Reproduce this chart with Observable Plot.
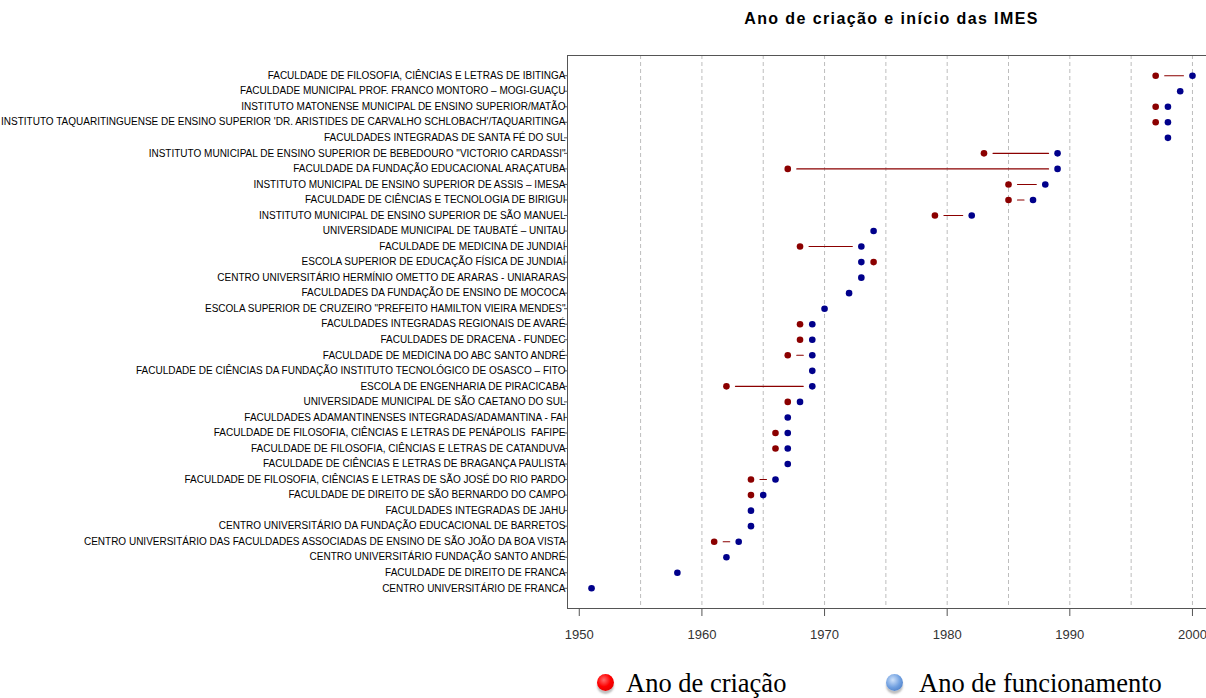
<!DOCTYPE html>
<html>
<head>
<meta charset="utf-8">
<script src="https://cdn.jsdelivr.net/npm/d3@7"></script>
<script src="https://cdn.jsdelivr.net/npm/@observablehq/plot@0.6"></script>
<style>
  html, body { margin: 0; padding: 0; background: #fff; overflow: hidden; width: 1206px; height: 698px; }
  #title { height: 40px; position: relative; }
  #title span { position: absolute; left: 567px; width: 649px; top: 10px; text-align: center;
    font: bold 16px "Liberation Sans", Arial, sans-serif; letter-spacing: 1.4px; color: #000; }
  #legend { position: relative; height: 33px; }
  .dot { position: absolute; width: 17px; height: 17px; border-radius: 50%; top: 9px;
    box-shadow: 0 3px 2px rgba(0,0,0,0.25); }
  .lab { position: absolute; top: 3px; font: 26.5px "Liberation Serif", "Times New Roman", serif; color: #000; white-space: nowrap; line-height: 30px; }
</style>
</head>
<body>
<div id="title"><span>Ano de criação e início das IMES</span></div>
<div id="chart"></div>
<div id="legend">
  <div class="dot" style="left:597px; background: radial-gradient(circle at 40% 35%, #ff6b6b 0%, #ff0000 45%, #d00000 100%);"></div>
  <div class="lab" style="left:626px;">Ano de criação</div>
  <div class="dot" style="left:886px; background: radial-gradient(circle at 40% 35%, #cfe2fa 0%, #6f9fe0 50%, #3d6fb8 100%);"></div>
  <div class="lab" style="left:919px;">Ano de funcionamento</div>
</div>
<script>
const names = [
  "FACULDADE DE FILOSOFIA, CIÊNCIAS E LETRAS DE IBITINGA",
  "FACULDADE MUNICIPAL PROF. FRANCO MONTORO – MOGI-GUAÇU",
  "INSTITUTO MATONENSE MUNICIPAL DE ENSINO SUPERIOR/MATÃO",
  "INSTITUTO TAQUARITINGUENSE DE ENSINO SUPERIOR 'DR. ARISTIDES DE CARVALHO SCHLOBACH'/TAQUARITINGA",
  "FACULDADES INTEGRADAS DE SANTA FÉ DO SUL",
  "INSTITUTO MUNICIPAL DE ENSINO SUPERIOR DE BEBEDOURO \"VICTORIO CARDASSI\"",
  "FACULDADE DA FUNDAÇÃO EDUCACIONAL ARAÇATUBA",
  "INSTITUTO MUNICIPAL DE ENSINO SUPERIOR DE ASSIS – IMESA",
  "FACULDADE DE CIÊNCIAS E TECNOLOGIA DE BIRIGUI",
  "INSTITUTO MUNICIPAL DE ENSINO SUPERIOR DE SÃO MANUEL",
  "UNIVERSIDADE MUNICIPAL DE TAUBATÉ – UNITAU",
  "FACULDADE DE MEDICINA DE JUNDIAÍ",
  "ESCOLA SUPERIOR DE EDUCAÇÃO FÍSICA DE JUNDIAÍ",
  "CENTRO UNIVERSITÁRIO HERMÍNIO OMETTO DE ARARAS - UNIARARAS",
  "FACULDADES DA FUNDAÇÃO DE ENSINO DE MOCOCA",
  "ESCOLA SUPERIOR DE CRUZEIRO \"PREFEITO HAMILTON VIEIRA MENDES\"",
  "FACULDADES INTEGRADAS REGIONAIS DE AVARÉ",
  "FACULDADES DE DRACENA - FUNDEC",
  "FACULDADE DE MEDICINA DO ABC SANTO ANDRÉ",
  "FACULDADE DE CIÊNCIAS DA FUNDAÇÃO INSTITUTO TECNOLÓGICO DE OSASCO – FITO",
  "ESCOLA DE ENGENHARIA DE PIRACICABA",
  "UNIVERSIDADE MUNICIPAL DE SÃO CAETANO DO SUL",
  "FACULDADES ADAMANTINENSES INTEGRADAS/ADAMANTINA - FAI",
  "FACULDADE DE FILOSOFIA, CIÊNCIAS E LETRAS DE PENÁPOLIS  FAFIPE",
  "FACULDADE DE FILOSOFIA, CIÊNCIAS E LETRAS DE CATANDUVA",
  "FACULDADE DE CIÊNCIAS E LETRAS DE BRAGANÇA PAULISTA",
  "FACULDADE DE FILOSOFIA, CIÊNCIAS E LETRAS DE SÃO JOSÉ DO RIO PARDO",
  "FACULDADE DE DIREITO DE SÃO BERNARDO DO CAMPO",
  "FACULDADES INTEGRADAS DE JAHU",
  "CENTRO UNIVERSITÁRIO DA FUNDAÇÃO EDUCACIONAL DE BARRETOS",
  "CENTRO UNIVERSITÁRIO DAS FACULDADES ASSOCIADAS DE ENSINO DE SÃO JOÃO DA BOA VISTA",
  "CENTRO UNIVERSITÁRIO FUNDAÇÃO SANTO ANDRÉ",
  "FACULDADE DE DIREITO DE FRANCA",
  "CENTRO UNIVERSITÁRIO DE FRANCA"
];
// Ano de criação (null = not shown)
const created = [1997, null, 1997, 1997, null, 1983, 1967, 1985, 1985, 1979,
  null, 1968, 1974, null, null, null, 1968, 1968, 1967, null,
  1962, 1967, null, 1966, 1966, null, 1964, 1964, null, null,
  1961, null, null, null];
// Ano de funcionamento
const started = [2000, 1999, 1998, 1998, 1998, 1989, 1989, 1988, 1987, 1982,
  1974, 1973, 1973, 1973, 1972, 1970, 1969, 1969, 1969, 1969,
  1969, 1968, 1967, 1967, 1967, 1967, 1966, 1965, 1964, 1964,
  1963, 1962, 1958, 1951];
const xTicks = [1950, 1960, 1970, 1980, 1990, 2000];
const gridYears = [1955, 1960, 1965, 1970, 1975, 1980, 1985, 1990, 1995, 2000];

const rows = names.map((n, i) => ({name: n, created: created[i], started: started[i]}));
const links = rows.filter(d => d.created != null && d.started - d.created >= 2);

const chart = Plot.plot({
  width: 1206,
  height: 625,
  marginLeft: 567,
  marginRight: 0,
  marginTop: 15,
  marginBottom: 57,
  style: {fontFamily: "'Liberation Sans', Arial, sans-serif", background: "#fff", maxWidth: "none", overflow: "visible"},
  x: {domain: [1949.04, 2001.96], range: [567, 1216]},
  y: {type: "point", domain: names, padding: 1.3, round: false},
  marks: [
    Plot.ruleX(gridYears, {stroke: "#bdbdbd", strokeWidth: 1, strokeDasharray: "4,3"}),
    Plot.frame({anchor: "left", stroke: "#555"}),
    Plot.frame({anchor: "top", stroke: "#555"}),
    Plot.frame({anchor: "bottom", stroke: "#555"}),
    Plot.axisY({tickSize: 3, tickPadding: -1, fontSize: 10, label: null, stroke: "#555", fill: "#000"}),
    Plot.axisX({ticks: xTicks, tickFormat: d => String(d), tickSize: 8, tickPadding: 13, fontSize: 13, label: null, stroke: "#555", fill: "#333"}),
    Plot.arrow(links, {x1: "created", x2: "started", y1: "name", y2: "name", headLength: 0, insetStart: 9, insetEnd: 9, stroke: "#8b0000", strokeWidth: 1.1}),
    Plot.dot(rows.filter(d => d.created != null), {x: "created", y: "name", r: 3.3, fill: "#8b0000", stroke: "none"}),
    Plot.dot(rows, {x: "started", y: "name", r: 3.3, fill: "#00008b", stroke: "none"})
  ]
});
document.getElementById("chart").appendChild(chart);
</script>
</body>
</html>
